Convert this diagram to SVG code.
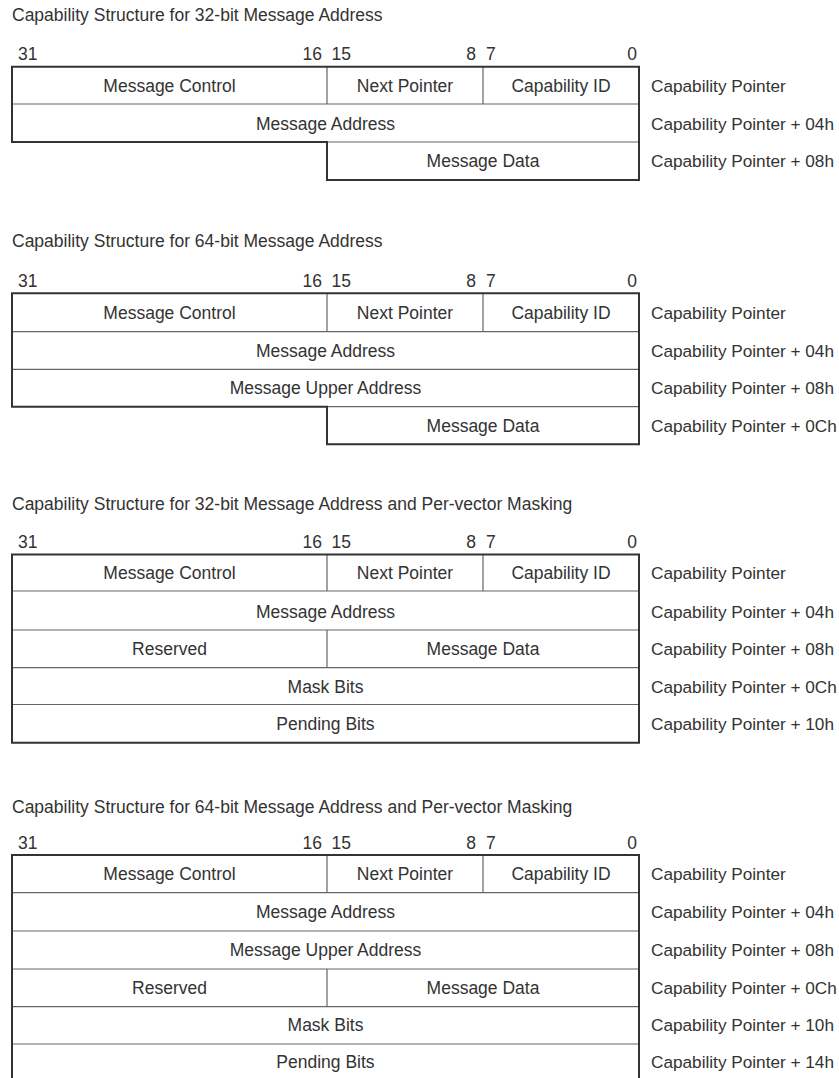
<svg xmlns="http://www.w3.org/2000/svg" width="839" height="1078" viewBox="0 0 839 1078">
<style>
text{font-family:"Liberation Sans",Arial,sans-serif;font-size:17.5px;fill:#333;}
.c{text-anchor:middle;}
.e{text-anchor:end;}
.o{font-size:17.2px;}
.outer{fill:none;stroke:#333;stroke-width:2;}
.inner{fill:none;stroke:#666;stroke-width:1.2;}
</style>
<rect width="839" height="1078" fill="#fff"/>

<!-- Section 1 -->
<g id="s1">
<text x="12" y="20.5">Capability Structure for 32-bit Message Address</text>
<g id="s1-bits"><text x="18" y="60">31</text><text class="e" x="322" y="60">16</text><text x="331.5" y="60">15</text><text class="e" x="476" y="60">8</text><text x="486" y="60">7</text><text class="e" x="637" y="60">0</text></g>
<path class="inner" d="M12 104H639M327 142H639M327 66.7V104M483 66.7V104"/>
<path class="outer" d="M12 66.7H639V180H327V142H12Z"/>
<g id="s1-r1"><text class="c" x="169.5" y="92">Message Control</text><text class="c" x="405" y="92">Next Pointer</text><text class="c" x="561" y="92">Capability ID</text></g>
<g id="s1-r2"><text class="c" x="325.5" y="130">Message Address</text></g>
<g id="s1-r3"><text class="c" x="483" y="167">Message Data</text></g>
<g id="s1-off" class="o"><text class="o" x="651" y="92">Capability Pointer</text><text class="o" x="651" y="130">Capability Pointer + 04h</text><text class="o" x="651" y="167">Capability Pointer + 08h</text></g>
</g>

<!-- Section 2 -->
<g id="s2">
<text x="12" y="246.7">Capability Structure for 64-bit Message Address</text>
<g id="s2-bits"><text x="18" y="287">31</text><text class="e" x="322" y="287">16</text><text x="331.5" y="287">15</text><text class="e" x="476" y="287">8</text><text x="486" y="287">7</text><text class="e" x="637" y="287">0</text></g>
<path class="inner" d="M12 331.7H639M12 369.3H639M327 406.7H639M327 293.3V331.7M483 293.3V331.7"/>
<path class="outer" d="M12 293.3H639V444.3H327V406.7H12Z"/>
<g id="s2-r1"><text class="c" x="169.5" y="318.5">Message Control</text><text class="c" x="405" y="318.5">Next Pointer</text><text class="c" x="561" y="318.5">Capability ID</text></g>
<g id="s2-r2"><text class="c" x="325.5" y="356.5">Message Address</text></g>
<g id="s2-r3"><text class="c" x="325.5" y="394">Message Upper Address</text></g>
<g id="s2-r4"><text class="c" x="483" y="431.5">Message Data</text></g>
<g id="s2-off"><text class="o" x="651" y="318.5">Capability Pointer</text><text class="o" x="651" y="356.5">Capability Pointer + 04h</text><text class="o" x="651" y="394">Capability Pointer + 08h</text><text class="o" x="651" y="431.5">Capability Pointer + 0Ch</text></g>
</g>

<!-- Section 3 -->
<g id="s3">
<text x="12" y="510">Capability Structure for 32-bit Message Address and Per-vector Masking</text>
<g id="s3-bits"><text x="18" y="548.3">31</text><text class="e" x="322" y="548.3">16</text><text x="331.5" y="548.3">15</text><text class="e" x="476" y="548.3">8</text><text x="486" y="548.3">7</text><text class="e" x="637" y="548.3">0</text></g>
<path class="inner" d="M12 591H639M12 630H639M12 667.7H639M12 704.5H639M327 554.5V591M483 554.5V591M327 630V667.7"/>
<path class="outer" d="M12 554.5H639V742.7H12Z"/>
<g id="s3-r1"><text class="c" x="169.5" y="579">Message Control</text><text class="c" x="405" y="579">Next Pointer</text><text class="c" x="561" y="579">Capability ID</text></g>
<g id="s3-r2"><text class="c" x="325.5" y="617.5">Message Address</text></g>
<g id="s3-r3"><text class="c" x="169.5" y="655">Reserved</text><text class="c" x="483" y="655">Message Data</text></g>
<g id="s3-r4"><text class="c" x="325.5" y="692.5">Mask Bits</text></g>
<g id="s3-r5"><text class="c" x="325.5" y="729.5">Pending Bits</text></g>
<g id="s3-off"><text class="o" x="651" y="579">Capability Pointer</text><text class="o" x="651" y="617.5">Capability Pointer + 04h</text><text class="o" x="651" y="655">Capability Pointer + 08h</text><text class="o" x="651" y="692.5">Capability Pointer + 0Ch</text><text class="o" x="651" y="729.5">Capability Pointer + 10h</text></g>
</g>

<!-- Section 4 -->
<g id="s4">
<text x="12" y="812.7">Capability Structure for 64-bit Message Address and Per-vector Masking</text>
<g id="s4-bits"><text x="18" y="849">31</text><text class="e" x="322" y="849">16</text><text x="331.5" y="849">15</text><text class="e" x="476" y="849">8</text><text x="486" y="849">7</text><text class="e" x="637" y="849">0</text></g>
<path class="inner" d="M12 892.7H639M12 931H639M12 969H639M12 1006.7H639M12 1044H639M327 855V892.7M483 855V892.7M327 969V1006.7"/>
<path class="outer" d="M12 1090V855H639V1090"/>
<g id="s4-r1"><text class="c" x="169.5" y="880">Message Control</text><text class="c" x="405" y="880">Next Pointer</text><text class="c" x="561" y="880">Capability ID</text></g>
<g id="s4-r2"><text class="c" x="325.5" y="918">Message Address</text></g>
<g id="s4-r3"><text class="c" x="325.5" y="956">Message Upper Address</text></g>
<g id="s4-r4"><text class="c" x="169.5" y="994">Reserved</text><text class="c" x="483" y="994">Message Data</text></g>
<g id="s4-r5"><text class="c" x="325.5" y="1031">Mask Bits</text></g>
<g id="s4-r6"><text class="c" x="325.5" y="1068">Pending Bits</text></g>
<g id="s4-off"><text class="o" x="651" y="880">Capability Pointer</text><text class="o" x="651" y="918">Capability Pointer + 04h</text><text class="o" x="651" y="956">Capability Pointer + 08h</text><text class="o" x="651" y="994">Capability Pointer + 0Ch</text><text class="o" x="651" y="1031">Capability Pointer + 10h</text><text class="o" x="651" y="1068">Capability Pointer + 14h</text></g>
</g>
</svg>
